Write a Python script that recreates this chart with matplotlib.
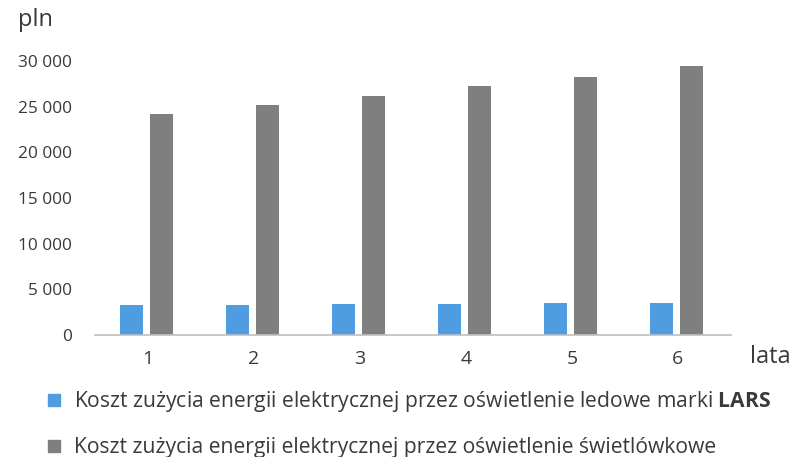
import matplotlib
matplotlib.use('Agg')
import matplotlib.pyplot as plt
from matplotlib.lines import Line2D
import numpy as np

plt.rcParams['font.family'] = ['Open Sans', 'DejaVu Sans']
plt.rcParams['mathtext.fontset'] = 'custom'
plt.rcParams['mathtext.rm'] = 'Open Sans'
plt.rcParams['mathtext.bf'] = 'Open Sans:bold'

# lata eksploatacji i koszty (pln)
years = ['1', '2', '3', '4', '5', '6']
led_cost = [3300, 3320, 3380, 3420, 3470, 3520]
fluo_cost = [24200, 25200, 26200, 27250, 28300, 29400]
y_ticks = [0, 5000, 10000, 15000, 20000, 25000, 30000]

led_label = 'Koszt zużycia energii elektrycznej przez oświetlenie ledowe marki $\\mathbf{LARS}$'
fluo_label = 'Koszt zużycia energii elektrycznej przez oświetlenie świetlówkowe'

BLUE = '#4e9de0'
GRAY = '#7f7f7f'
TEXT = '#3a3a3a'

fig = plt.figure(figsize=(7.92, 4.57), dpi=100)
ax = fig.add_axes([95 / 792, 1 - 335 / 457, 636 / 792, 274 / 457])

x = np.arange(len(years))
w = 0.22
ax.bar(x - 0.155, led_cost, w, color=BLUE)
ax.bar(x + 0.13, fluo_cost, w, color=GRAY)

ax.set_xlim(-0.5, len(years) - 0.5)
ax.set_ylim(0, 30000)
ax.set_xticks(x)
ax.set_xticklabels(years, fontsize=14, color=TEXT)
ax.set_yticks(y_ticks)
ax.set_yticklabels([f'{v:,}'.replace(',', ' ') for v in y_ticks], fontsize=12.4, color=TEXT)
ax.tick_params(length=0)
ax.tick_params(axis='y', pad=16.5)
ax.tick_params(axis='x', pad=11)

for side in ('top', 'right', 'left'):
    ax.spines[side].set_visible(False)
ax.spines['bottom'].set_color('#bfbfbf')
ax.spines['bottom'].set_linewidth(1.2)

fig.text(18 / 792, 1 - 20 / 457, 'pln', fontsize=17, color=TEXT, va='center', ha='left')
fig.text(750 / 792, 1 - 357 / 457, 'lata', fontsize=17, color=TEXT, va='center', ha='left')

handles = [
    Line2D([], [], marker='s', linestyle='none', markersize=8.6, color=BLUE),
    Line2D([], [], marker='s', linestyle='none', markersize=8.6, color=GRAY),
]
fig.legend(handles, [led_label, fluo_label], loc='upper left',
           bbox_to_anchor=(45.5 / 792, 1 - 389 / 457), frameon=False,
           fontsize=15.2, labelcolor=TEXT, handlelength=0.8, handletextpad=0.55,
           labelspacing=1.1, borderaxespad=0, borderpad=0)

fig.savefig('out.png', dpi=100)
